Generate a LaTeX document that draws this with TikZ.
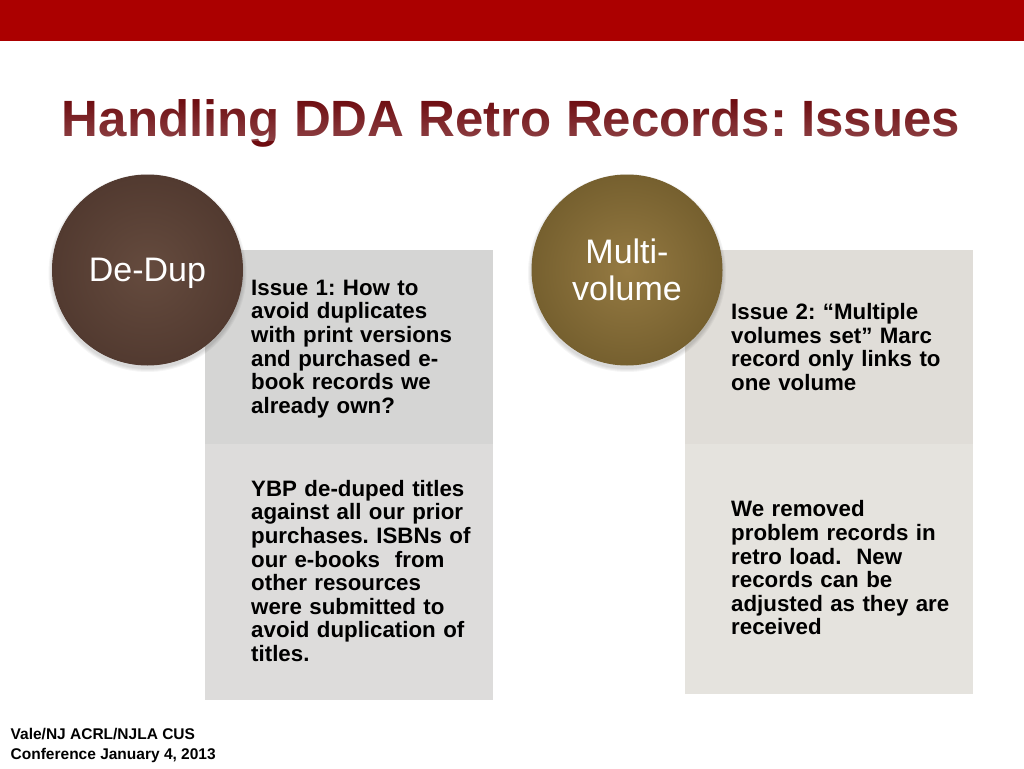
\documentclass[tikz,border=0pt]{standalone}
\usepackage{fontspec}
\setmainfont{Liberation Sans}
\usetikzlibrary{fadings}
\frenchspacing
\definecolor{barred}{HTML}{AB0000}
\definecolor{titlered}{HTML}{6E0C10}
\definecolor{dedupin}{HTML}{654B3E}
\definecolor{dedupout}{HTML}{523A30}
\definecolor{multiin}{HTML}{957A42}
\definecolor{multiout}{HTML}{76602F}
\definecolor{greytop}{HTML}{D5D5D4}
\definecolor{greylow}{HTML}{DDDCDB}
\definecolor{sandtop}{HTML}{E0DDD8}
\definecolor{sandlow}{HTML}{E5E3DE}

\begin{document}
\begin{tikzpicture}[x=1pt,y=-1pt]
\tikzstyle{panel}=[rectangle, inner sep=0pt, minimum width=288.5pt, anchor=north west]
\tikzstyle{blurb}=[inner sep=0pt, anchor=west, align=left, text width=236pt, font=\fontsize{22.3}{23.6}\selectfont\bfseries]
\tikzstyle{disc}=[circle, inner sep=0pt, minimum size=190pt, line width=1pt, text=white, align=center, font=\fontsize{34}{36}\selectfont]
\useasboundingbox (0,0) rectangle (1024,768);
\node[rectangle, fill=barred, inner sep=0pt, minimum width=1024pt, minimum height=41pt, anchor=north west] (topbar) at (0,0) {};
\node[text=titlered, inner sep=0pt, font=\fontsize{51}{52}\selectfont\bfseries] (title) at (511,123) {Handling DDA Retro Records: Issues};
% lighter towards the foot of the letters
\fill[white, opacity=0.22, path fading=north] (50,99) rectangle (975,141);

\node[panel, fill=greytop, minimum height=194pt] (issue1) at (204.5,250) {};
\node[panel, fill=greylow, minimum height=256pt] (answer1) at (204.5,444) {};
\node[panel, fill=sandtop, minimum height=194pt] (issue2) at (684.5,250) {};
\node[panel, fill=sandlow, minimum height=250pt] (answer2) at (684.5,444) {};

% soft shadows under the discs
\foreach \r in {96,97,98,99}{
\fill[black, opacity=0.04] (147.5,273) circle (\r);
\fill[black, opacity=0.04] (627,273) circle (\r);
}

\node[disc, draw=dedupout, inner color=dedupin, outer color=dedupout] (dedup) at (147.5,270) {\raisebox{-3pt}[\height][\depth]{De-Dup}};
\node[disc, draw=multiout, inner color=multiin, outer color=multiout] (multi) at (627,270) {Multi-\\[0.5pt]volume};

\node[blurb] (text1) at (251,349) {Issue 1: How to\\avoid duplicates\\with print versions\\and purchased e-\\book records we\\already own?};
\node[blurb] (text2) at (251,571) {YBP de-duped titles\\against all our prior\\purchases. ISBNs of\\our e-books~ from\\other resources\\were submitted to\\avoid duplication of\\titles.};
\node[blurb] (text3) at (731,347) {Issue 2: “Multiple\\volumes set” Marc\\record only links to\\one volume};
\node[blurb] (text4) at (731,568) {We removed\\problem records in\\retro load.~ New\\records can be\\adjusted as they are\\received};

\node[inner sep=0pt, anchor=west, align=left, font=\fontsize{15.5}{19.5}\selectfont\bfseries] (footer) at (10.5,745.5) {Vale/NJ ACRL/NJLA CUS\\Conference January 4, 2013};
\end{tikzpicture}
\end{document}
